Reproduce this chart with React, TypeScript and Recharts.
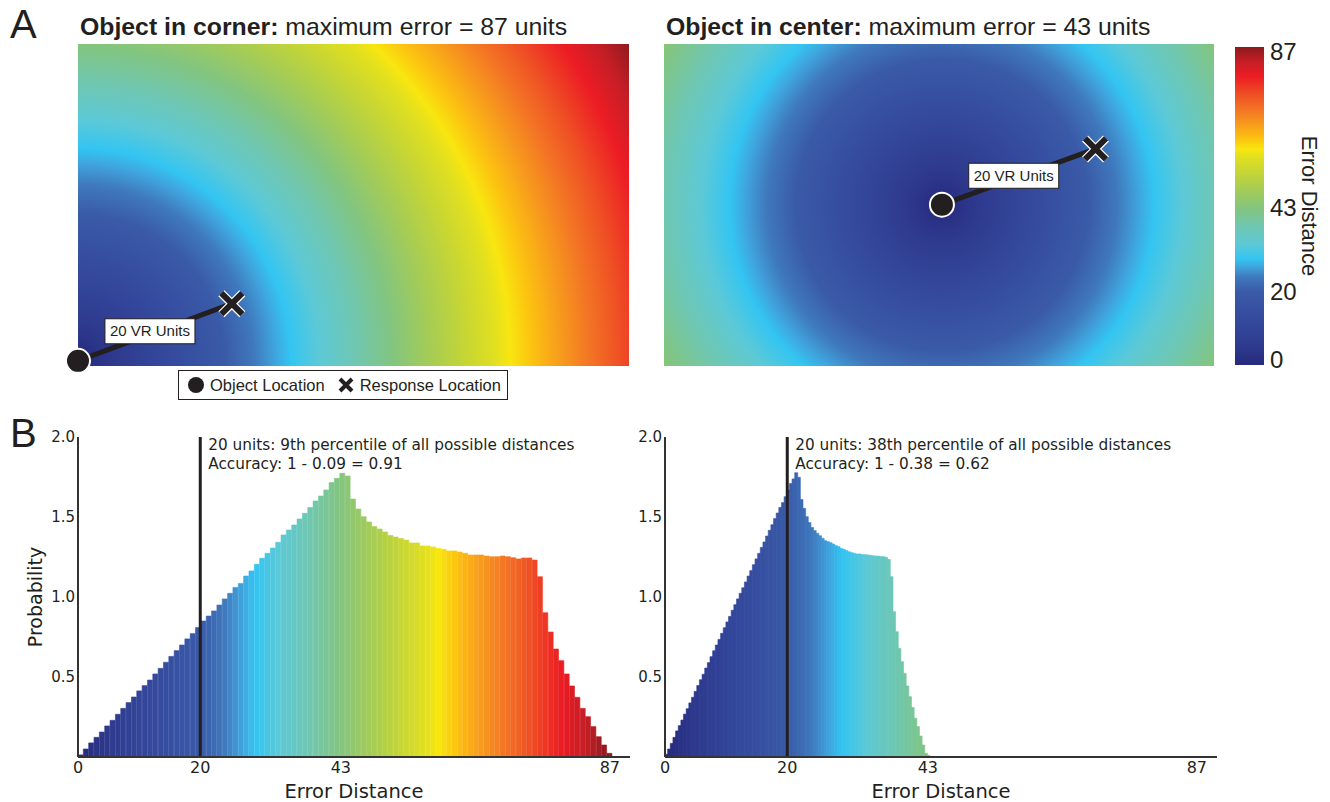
import React from 'react';
import {
  ScatterChart,
  Scatter,
  BarChart,
  Bar,
  XAxis,
  YAxis,
  Cell,
  ReferenceArea,
  ReferenceLine,
  ReferenceDot,
  Legend,
} from 'recharts';

const MAX_ERROR = 87;
// room size in VR units (diagonal = 87)
const ROOM_W = 75.2;
const ROOM_H = 43.9;

const INK = '#231f20';
const HELV = '"Liberation Sans", Arial, sans-serif';
const DEJAVU = '"DejaVu Sans", sans-serif';

// error distance -> colour (same map for heatmaps, colorbar and bars)
const colorStops: [number, string][] = [
  [0, '#262a7d'],
  [5, '#2e3a8e'],
  [12, '#34499c'],
  [20, '#3a5aa8'],
  [24, '#3f79bd'],
  [27, '#3fa6de'],
  [29, '#33c5f2'],
  [33, '#5dc9d6'],
  [38, '#70c7b0'],
  [43, '#83c57f'],
  [48, '#a5cc55'],
  [53, '#c7d633'],
  [57, '#e2e01f'],
  [59, '#f8e60f'],
  [62, '#fcc211'],
  [66, '#f79a1d'],
  [70, '#f37325'],
  [74, '#ef4f24'],
  [79, '#ec1c24'],
  [83, '#c61e26'],
  [87, '#8b1a1e'],
];

const distanceTicks = [0, 20, 43, 87];
const probTicks = [0.5, 1, 1.5, 2];
const colorbarTicks = [0, 20, 43, 87];
const colorbarData = [{ name: 'Error Distance', top: MAX_ERROR }];

const cornerObject = [{ x: 0, y: 0.7 }];
const cornerResponse = [{ x: 21.0, y: 8.5 }];
const centerObject = [{ x: 38.0, y: 22.0 }];
const centerResponse = [{ x: 59.0, y: 29.6 }];

// histogram bins (100 bins each)
const CORNER_BIN = 0.874;
const CENTER_BIN = 0.433;

const cornerProb = [
  0.013, 0.05, 0.088, 0.123, 0.156, 0.194, 0.229, 0.267, 0.304, 0.34,
  0.375, 0.413, 0.446, 0.481, 0.519, 0.554, 0.592, 0.629, 0.665, 0.7,
  0.738, 0.771, 0.809, 0.85, 0.881, 0.913, 0.95, 0.988, 1.023, 1.06,
  1.085, 1.131, 1.163, 1.204, 1.242, 1.273, 1.306, 1.342, 1.388, 1.419,
  1.45, 1.488, 1.523, 1.56, 1.6, 1.631, 1.669, 1.715, 1.742, 1.773,
  1.756, 1.612, 1.55, 1.502, 1.469, 1.44, 1.425, 1.406, 1.385, 1.375,
  1.365, 1.356, 1.338, 1.338, 1.319, 1.319, 1.313, 1.304, 1.298, 1.288,
  1.288, 1.281, 1.273, 1.263, 1.263, 1.263, 1.256, 1.252, 1.252, 1.256,
  1.252, 1.246, 1.238, 1.244, 1.244, 1.231, 1.127, 0.902, 0.781, 0.675,
  0.602, 0.519, 0.444, 0.373, 0.304, 0.252, 0.19, 0.127, 0.075, 0.023,
];

const centerProb = [
  0.017, 0.05, 0.085, 0.123, 0.163, 0.196, 0.231, 0.268, 0.302, 0.338,
  0.373, 0.41, 0.447, 0.483, 0.517, 0.556, 0.59, 0.627, 0.664, 0.7,
  0.735, 0.773, 0.808, 0.844, 0.879, 0.917, 0.952, 0.988, 1.023, 1.058,
  1.094, 1.131, 1.165, 1.202, 1.238, 1.273, 1.31, 1.344, 1.381, 1.417,
  1.452, 1.49, 1.525, 1.56, 1.59, 1.627, 1.669, 1.71, 1.738, 1.777,
  1.748, 1.61, 1.554, 1.502, 1.465, 1.435, 1.415, 1.398, 1.383, 1.367,
  1.352, 1.346, 1.34, 1.331, 1.321, 1.315, 1.304, 1.298, 1.29, 1.283,
  1.277, 1.273, 1.269, 1.269, 1.265, 1.265, 1.263, 1.261, 1.258, 1.256,
  1.256, 1.252, 1.252, 1.248, 1.235, 1.127, 0.908, 0.783, 0.679, 0.596,
  0.523, 0.444, 0.377, 0.31, 0.242, 0.19, 0.131, 0.075, 0.023, 0.01,
];

const hexToRgb = (h: string) => [1, 3, 5].map((i) => parseInt(h.slice(i, i + 2), 16));

const colorAt = (v: number) => {
  const c = Math.max(0, Math.min(MAX_ERROR, v));
  for (let i = 1; i < colorStops.length; i++) {
    const [v1, c1] = colorStops[i];
    if (c <= v1) {
      const [v0, c0] = colorStops[i - 1];
      const t = (c - v0) / (v1 - v0);
      const a = hexToRgb(c0);
      const b = hexToRgb(c1);
      return `rgb(${a.map((x, k) => Math.round(x + (b[k] - x) * t)).join(',')})`;
    }
  }
  return colorStops[colorStops.length - 1][1];
};

const gradientStops = colorStops.map(([v, c]) => (
  <stop key={v} offset={v / MAX_ERROR} stopColor={c} />
));

// radial fill: colour = distance from the object
const makeHeatFill = (id: string, center: { x: number; y: number }) => (props: any) => {
  const { x, y, width, height } = props;
  const kx = width / ROOM_W;
  const ky = height / ROOM_H;
  const cx = x + center.x * kx;
  const cy = y + height - center.y * ky;
  return (
    <g>
      <defs>
        <radialGradient id={id} gradientUnits="userSpaceOnUse" cx={cx} cy={cy} r={MAX_ERROR * kx}>
          {gradientStops}
        </radialGradient>
      </defs>
      <rect x={x} y={y} width={width} height={height} fill={`url(#${id})`} />
    </g>
  );
};

const ColorbarFill = (props: any) => {
  const { x, y, width, height } = props;
  return (
    <g>
      <defs>
        <linearGradient id="cbGrad" x1="0" y1="1" x2="0" y2="0">
          {gradientStops}
        </linearGradient>
      </defs>
      <rect x={x} y={y} width={width} height={height} fill="url(#cbGrad)" />
    </g>
  );
};

// end labels of the colorbar sit just inside the bar
const ColorbarTick = (props: any) => {
  const { x, y, payload } = props;
  const nudge = payload.value === MAX_ERROR ? 5 : payload.value === 0 ? -5 : 0;
  return (
    <text x={x} y={y + nudge} dy={8} fontSize={24} fontFamily={HELV} fill={INK} textAnchor="start">
      {payload.value}
    </text>
  );
};

const ObjectMarker = (props: any) => (
  <circle cx={props.cx} cy={props.cy} r={12} fill={INK} stroke="#fff" strokeWidth={2} />
);

const ResponseMarker = (props: any) => {
  const { cx, cy } = props;
  const s = 10.5;
  const d = `M${cx - s},${cy - s}L${cx + s},${cy + s}M${cx + s},${cy - s}L${cx - s},${cy + s}`;
  return (
    <g>
      <path d={d} stroke="#fff" strokeWidth={8.5} />
      <path d={d} stroke={INK} strokeWidth={6} />
    </g>
  );
};

const VrLabel = (props: any) => {
  const cx = props.cx - 5;
  const cy = props.cy - 1;
  return (
    <g>
      <rect x={cx - 45} y={cy - 12.5} width={90} height={25} fill="#fff" stroke={INK} strokeWidth={1} />
      <text x={cx} y={cy + 5} textAnchor="middle" fontSize={15} fontFamily={HELV} fill={INK}>
        20 VR Units
      </text>
    </g>
  );
};

const MarkerLegend = (props: any) => {
  const { payload = [] } = props;
  return (
    <div
      style={{
        display: 'flex',
        alignItems: 'center',
        border: `1px solid ${INK}`,
        background: '#fff',
        height: 30,
        boxSizing: 'border-box',
        padding: '0 6px 0 8px',
        fontFamily: HELV,
        fontSize: 16.5,
        color: INK,
        whiteSpace: 'nowrap',
      }}
    >
      {payload.map((entry: any, i: number) => (
        <span key={entry.value} style={{ display: 'flex', alignItems: 'center', marginLeft: i ? 12 : 0 }}>
          <svg width={18} height={18}>
            {entry.type === 'circle' ? (
              <circle cx={9} cy={9} r={8} fill={INK} />
            ) : (
              <path d="M3,3L15,15M15,3L3,15" stroke={INK} strokeWidth={4} />
            )}
          </svg>
          <span style={{ marginLeft: 5 }}>{entry.value}</span>
        </span>
      ))}
    </div>
  );
};

interface HeatPanelProps {
  id: string;
  left: number;
  plotW: number;
  margin: { top: number; right: number; bottom: number; left: number };
  objectPts: { x: number; y: number }[];
  responsePts: { x: number; y: number }[];
  withLegend?: boolean;
}

const HeatPanel = ({ id, left, plotW, margin, objectPts, responsePts, withLegend }: HeatPanelProps) => {
  const plotH = 322;
  const mid = {
    x: (objectPts[0].x + responsePts[0].x) / 2,
    y: (objectPts[0].y + responsePts[0].y) / 2,
  };
  return (
    <div style={{ position: 'absolute', left, top: 34 }}>
      <ScatterChart
        width={margin.left + plotW + margin.right}
        height={margin.top + plotH + margin.bottom}
        margin={margin}
      >
        <XAxis type="number" dataKey="x" domain={[0, ROOM_W]} hide />
        <YAxis type="number" dataKey="y" domain={[0, ROOM_H]} hide />
        <ReferenceArea
          x1={0}
          x2={ROOM_W}
          y1={0}
          y2={ROOM_H}
          ifOverflow="visible"
          shape={makeHeatFill(id, objectPts[0])}
        />
        <ReferenceLine
          segment={[objectPts[0], responsePts[0]]}
          stroke={INK}
          strokeWidth={5}
          ifOverflow="visible"
        />
        <ReferenceDot x={mid.x} y={mid.y} ifOverflow="visible" shape={VrLabel} />
        <Scatter
          name="Object Location"
          data={objectPts}
          shape={ObjectMarker}
          legendType="circle"
          isAnimationActive={false}
        />
        <Scatter
          name="Response Location"
          data={responsePts}
          shape={ResponseMarker}
          legendType="cross"
          isAnimationActive={false}
        />
        {withLegend && (
          <Legend
            layout="horizontal"
            verticalAlign="middle"
            align="center"
            content={MarkerLegend}
            wrapperStyle={{ left: 120, top: 336, width: 'auto' }}
          />
        )}
      </ScatterChart>
    </div>
  );
};

const annotation = (lines: string[]) => (props: any) => {
  const { viewBox } = props;
  return (
    <g>
      {lines.map((t, i) => (
        <text
          key={i}
          x={viewBox.x + 8}
          y={viewBox.y + 13 + i * 19}
          fontSize={15.3}
          fontFamily={DEJAVU}
          fill={INK}
        >
          {t}
        </text>
      ))}
    </g>
  );
};

interface HistogramProps {
  left: number;
  probs: number[];
  binWidth: number;
  lines: string[];
  showYLabel?: boolean;
}

const Histogram = ({ left, probs, binWidth, lines, showYLabel }: HistogramProps) => {
  const data = probs.map((p, i) => ({ d: (i + 0.5) * binWidth, p }));
  return (
    <div style={{ position: 'absolute', left, top: 420 }}>
      <BarChart
        width={640}
        height={382}
        data={data}
        margin={{ top: 17, right: 10, left: 0, bottom: 0 }}
        barCategoryGap={0}
        barGap={0}
      >
        <XAxis
          dataKey="d"
          type="number"
          domain={[0, 90.3]}
          ticks={distanceTicks}
          interval={0}
          tickLine={false}
          tickSize={0}
          tickMargin={5}
          axisLine={{ stroke: '#333', strokeWidth: 2 }}
          tick={{ fontSize: 16, fill: INK, fontFamily: DEJAVU }}
          height={45}
          label={{
            value: 'Error Distance',
            position: 'insideBottom',
            offset: 4,
            style: { fontSize: 19.5, fill: INK, fontFamily: DEJAVU },
          }}
        />
        <YAxis
          type="number"
          domain={[0, 2]}
          ticks={probTicks}
          interval={0}
          tickFormatter={(v: number) => v.toFixed(1)}
          tickLine={false}
          tickSize={0}
          tickMargin={3}
          axisLine={{ stroke: '#333', strokeWidth: 2 }}
          tick={{ fontSize: 15, fill: INK, fontFamily: DEJAVU }}
          width={78}
          label={
            showYLabel
              ? {
                  value: 'Probability',
                  angle: -90,
                  position: 'insideLeft',
                  offset: 35,
                  style: { textAnchor: 'middle', fontSize: 19, fill: INK, fontFamily: DEJAVU },
                }
              : undefined
          }
        />
        <Bar dataKey="p" isAnimationActive={false}>
          {data.map((b, i) => (
            <Cell key={`bin-${i}`} fill={colorAt(b.d)} stroke={colorAt(b.d)} strokeWidth={0.6} />
          ))}
        </Bar>
        <ReferenceLine x={20} stroke={INK} strokeWidth={3} label={annotation(lines)} />
      </BarChart>
    </div>
  );
};

const Colorbar = () => (
  <div style={{ position: 'absolute', left: 1225, top: 37 }}>
    <BarChart
      width={99}
      height={338}
      data={colorbarData}
      margin={{ top: 10, right: 0, bottom: 10, left: 10 }}
      barCategoryGap={0}
    >
      <XAxis dataKey="name" hide />
      <YAxis
        orientation="right"
        type="number"
        domain={[0, MAX_ERROR]}
        ticks={colorbarTicks}
        interval={0}
        tickLine={false}
        axisLine={false}
        tickSize={0}
        tickMargin={6}
        width={60}
        tick={ColorbarTick}
        label={{
          value: 'Error Distance',
          angle: 90,
          position: 'insideRight',
          offset: 14,
          style: { textAnchor: 'middle', fontSize: 22, fill: INK, fontFamily: HELV },
        }}
      />
      <Bar dataKey="top" shape={ColorbarFill} isAnimationActive={false} />
    </BarChart>
  </div>
);

const textStyle = (left: number, top: number, fontSize: number): React.CSSProperties => ({
  position: 'absolute',
  left,
  top,
  fontSize,
  lineHeight: 1,
  fontFamily: HELV,
  color: INK,
  whiteSpace: 'nowrap',
});

export default function App() {
  return (
    <div
      style={{
        position: 'absolute',
        left: 0,
        top: 0,
        width: 1330,
        height: 802,
        background: '#fff',
        overflow: 'hidden',
      }}
    >
      <div style={textStyle(10, 4, 40)}>A</div>
      <div style={textStyle(80, 15, 24.8)}>
        <b>Object in corner:</b> maximum error = 87 units
      </div>
      <div style={textStyle(666, 15, 24.8)}>
        <b>Object in center:</b> maximum error = 43 units
      </div>
      <div style={textStyle(10, 413, 40)}>B</div>

      <HeatPanel
        id="cornerHeat"
        left={58}
        plotW={551}
        margin={{ top: 10, right: 10, bottom: 40, left: 20 }}
        objectPts={cornerObject}
        responsePts={cornerResponse}
        withLegend
      />
      <HeatPanel
        id="centerHeat"
        left={654}
        plotW={550}
        margin={{ top: 10, right: 10, bottom: 10, left: 10 }}
        objectPts={centerObject}
        responsePts={centerResponse}
      />
      <Colorbar />

      <Histogram
        left={0}
        probs={cornerProb}
        binWidth={CORNER_BIN}
        lines={['20 units: 9th percentile of all possible distances', 'Accuracy: 1 - 0.09 = 0.91']}
        showYLabel
      />
      <Histogram
        left={587}
        probs={centerProb}
        binWidth={CENTER_BIN}
        lines={['20 units: 38th percentile of all possible distances', 'Accuracy: 1 - 0.38 = 0.62']}
      />
    </div>
  );
}
